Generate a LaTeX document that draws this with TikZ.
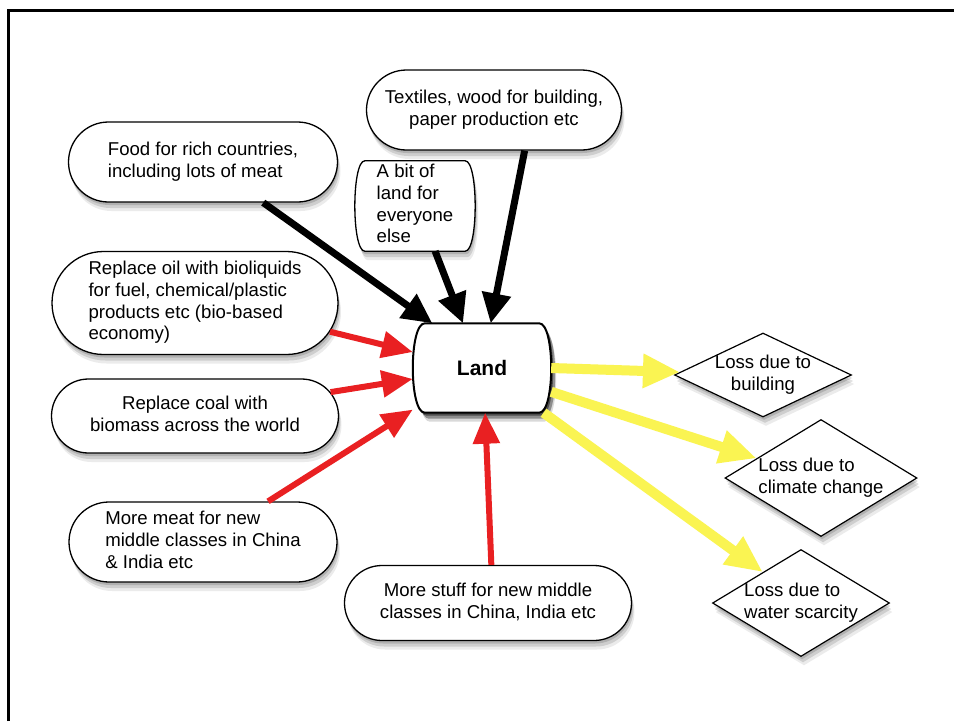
\documentclass[tikz,border=0pt]{standalone}
\usepackage{fontspec}
\setmainfont{Liberation Sans}
\usetikzlibrary{shapes.misc,shapes.geometric,arrows.meta,shadows}
\definecolor{arrred}{RGB}{233,32,34}
\definecolor{arryel}{RGB}{250,244,82}
\newcommand\boxtxt[2]{\makebox[0pt]{\begin{tabular}{@{}#1@{}}#2\end{tabular}}}
\pgfdeclarelayer{bg}
\pgfdeclarelayer{paper}
\pgfsetlayers{paper,bg,main}
\begin{document}
\begin{tikzpicture}[x=1pt,y=-1pt,
  every node/.style={font=\fontsize{18.6}{21.7}\selectfont, inner sep=0pt},
  softshadow/.style={
    general shadow={fill=black,opacity=0.14,shadow xshift=1pt,shadow yshift=-3pt},
    general shadow={fill=black,opacity=0.12,shadow xshift=2pt,shadow yshift=-6pt},
    general shadow={fill=black,opacity=0.08,shadow xshift=3pt,shadow yshift=-9pt}},
  hardshadow/.style={
    general shadow={fill=black,opacity=0.45,shadow xshift=2pt,shadow yshift=-3pt},
    general shadow={fill=black,opacity=0.35,shadow xshift=4pt,shadow yshift=-6pt},
    general shadow={fill=black,opacity=0.15,shadow xshift=5pt,shadow yshift=-9pt}},
  pill/.style={rounded rectangle, draw=black, line width=1.3pt, fill=white, softshadow},
  bulgenode/.style={rectangle},
  lossdia/.style={diamond, draw=black, line width=1.2pt, fill=white, softshadow},
  blk/.style={draw=black, line width=7pt, -{Triangle[length=30pt,width=28pt]}},
  redarr/.style={draw=arrred, line width=6pt, -{Triangle[length=31pt,width=26pt]}},
  yelarr/.style={draw=arryel, line width=10pt, -{Triangle[length=37pt,width=32pt]}}
]
\useasboundingbox (0,0) rectangle (954,721);
\begin{pgfonlayer}{paper}
\fill[white] (0,0) rectangle (954,721);
\end{pgfonlayer}
\draw[line width=3pt] (8,721) -- (8,10) -- (954,10);

% source nodes
\node[pill, minimum width=269pt, minimum height=80pt] (food) at (203,162)
  {\boxtxt{l}{Food for rich countries,\\including lots of meat}};
\node[pill, minimum width=255pt, minimum height=80pt] (textiles) at (494,110)
  {\boxtxt{c}{Textiles, wood for building,\\paper production etc}};
\node[bulgenode, minimum width=120pt, minimum height=90pt] (abit) at (415,206)
  {\boxtxt{l}{A bit of\\land for\\everyone\\else}};
\node[pill, minimum width=286pt, minimum height=103pt] (oil) at (195,303)
  {\boxtxt{l}{Replace oil with bioliquids\\for fuel, chemical/plastic\\products etc (bio-based\\economy)}};
\node[pill, minimum width=287pt, minimum height=74pt] (coal) at (195,416)
  {\boxtxt{c}{Replace coal with\\biomass across the world}};
\node[pill, minimum width=268pt, minimum height=80pt] (meat) at (203,542)
  {\boxtxt{l}{More meat for new\\middle classes in China\\\& India etc}};
\node[pill, minimum width=287pt, minimum height=75pt] (stuff) at (488,603)
  {\boxtxt{c}{More stuff for new middle\\classes in China, India etc}};

% central node
\node[bulgenode, minimum width=138pt, minimum height=89pt] (Land) at (482,368)
  {\makebox[0pt]{\fontsize{21}{24}\selectfont\bfseries Land}};

% outlines of the two bulging boxes
\begin{pgfonlayer}{bg}
\draw[line width=1.3pt, fill=white, softshadow]
  ([xshift=10pt]abit.north west) -- ([xshift=-10pt]abit.north east)
  .. controls +(13.3,0) and +(13.3,0) .. ([xshift=-10pt]abit.south east)
  -- ([xshift=10pt]abit.south west)
  .. controls +(-13.3,0) and +(-13.3,0) .. cycle;
\draw[line width=2pt, fill=white, hardshadow]
  ([xshift=12pt]Land.north west) -- ([xshift=-12pt]Land.north east)
  .. controls +(16,0) and +(16,0) .. ([xshift=-12pt]Land.south east)
  -- ([xshift=12pt]Land.south west)
  .. controls +(-16,0) and +(-16,0) .. cycle;
\end{pgfonlayer}

% loss diamonds
\node[lossdia, minimum width=177pt, minimum height=84pt] (d1) at (763,375)
  {\boxtxt{c}{Loss due to\\building}};
\node[lossdia, minimum width=192pt, minimum height=117pt] (d2) at (821,478)
  {\boxtxt{l}{Loss due to\\climate change}};
\node[lossdia, minimum width=177pt, minimum height=107pt] (d3) at (801,603)
  {\boxtxt{l}{Loss due to\\water scarcity}};

% connectors
\draw[blk] (food.-34) -- (Land.138);
\draw[blk] (abit.-66) -- (Land.113);
\draw[blk] (textiles.-53) -- (Land.79);
\draw[redarr] (oil.-12) -- (Land.167);
\draw[redarr] (coal.10) -- (Land.189);
\draw[redarr] (meat.32) -- (Land.211);
\draw[redarr] (stuff.85) -- (Land.274);
\draw[yelarr] (Land.0) -- (d1.178);
\draw[yelarr] (Land.-19) -- (d2.163);
\draw[yelarr] (Land.-36) -- (d3.141);
\end{tikzpicture}
\end{document}
